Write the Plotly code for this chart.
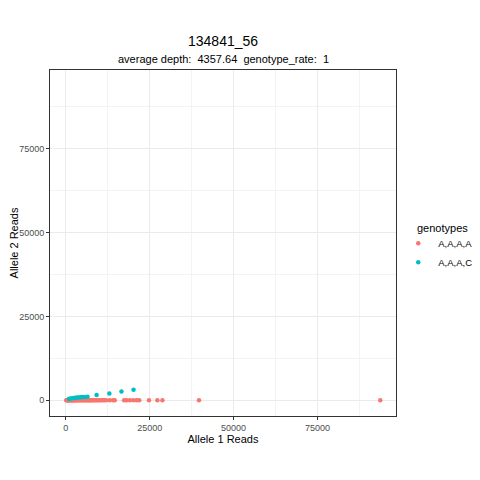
import plotly.graph_objects as go

# --- data ---
aaaa_x = [150, 300, 450, 600, 750, 900, 1050, 1200, 1400, 1600, 1800, 2000, 2200, 2400,
          2600, 2800, 3000, 3200, 3500, 3800, 4100, 4400, 4700, 5000, 5300, 5600, 5900,
          6200, 6500, 6800, 7100, 7400, 7700, 8000, 8400, 8800, 9200, 9600, 10000,
          10500, 11000, 11500, 12000, 13100, 14100, 14600, 17400, 18100, 19100,
          20100, 21100, 21900, 24800, 27300, 28800, 39700, 93700]
aaaa_y = [0] * len(aaaa_x)

aaac_x = [900, 1400, 1900, 2400, 2900, 3400, 3900, 4400, 5000, 5700, 6500,
          9200, 13000, 16600, 20200]
aaac_y = [400, 500, 600, 700, 750, 800, 850, 900, 950, 1000, 1050,
          1600, 2000, 2600, 3100]

title = "134841_56"
subtitle = "average depth:  4357.64  genotype_rate:  1"
x_title = "Allele 1 Reads"
y_title = "Allele 2 Reads"
tick_vals = [0, 25000, 50000, 75000]
tick_text = ["0", "25000", "50000", "75000"]
legend_title = "genotypes"
names = ["A,A,A,A", "A,A,A,C"]
colors = ["#F8766D", "#00BFC4"]

lo, hi = -4685, 98385

fig = go.Figure()
fig.add_trace(go.Scatter(x=aaaa_x, y=aaaa_y, mode="markers", name=names[0],
                         marker=dict(color=colors[0], size=4.5)))
fig.add_trace(go.Scatter(x=aaac_x, y=aaac_y, mode="markers", name=names[1],
                         marker=dict(color=colors[1], size=4.5)))

axis_common = dict(
    range=[lo, hi], tickvals=tick_vals, ticktext=tick_text, automargin=False,
    showgrid=True, gridcolor="#EBEBEB", gridwidth=1,
    minor=dict(showgrid=True, gridcolor="#F3F3F3", gridwidth=0.6, dtick=12500, tick0=0),
    zeroline=False, showline=True, linecolor="#333333", linewidth=1, mirror=True,
    ticks="outside", ticklen=3, tickcolor="#333333",
    tickfont=dict(family="Liberation Sans, Arial", size=9, color="#4D4D4D"),
)

fig.update_layout(
    width=480, height=480,
    paper_bgcolor="white", plot_bgcolor="white",
    margin=dict(l=42, r=92, t=62, b=72),
    showlegend=True,
    legend=dict(xref="container", yref="container",
                x=0.813, y=0.49, xanchor="left", yanchor="middle",
                font=dict(family="Liberation Sans, Arial", size=9.5, color="#000000"),
                itemsizing="trace", itemwidth=30, tracegroupgap=0),
    font=dict(family="Liberation Sans, Arial", color="#000000"),
    xaxis=dict(**axis_common, title=dict(text=x_title, font=dict(size=11), standoff=3)),
    yaxis=dict(**axis_common, title=dict(text=y_title, font=dict(size=11), standoff=10)),
    annotations=[
        dict(text=title, x=0.5, y=1, xref="paper", yref="paper", xanchor="center",
             yanchor="bottom", yshift=19, showarrow=False,
             font=dict(family="Liberation Sans, Arial", size=14, color="#000000")),
        dict(text=subtitle, x=0.5, y=1, xref="paper", yref="paper", xanchor="center",
             yanchor="bottom", yshift=3, showarrow=False,
             font=dict(family="Liberation Sans, Arial", size=11, color="#000000")),
        dict(text=legend_title, x=1.055, y=0.543, xref="paper", yref="paper",
             xanchor="left", yanchor="middle", showarrow=False,
             font=dict(family="Liberation Sans, Arial", size=11, color="#000000")),
    ],
)

fig.write_html("out.html")
